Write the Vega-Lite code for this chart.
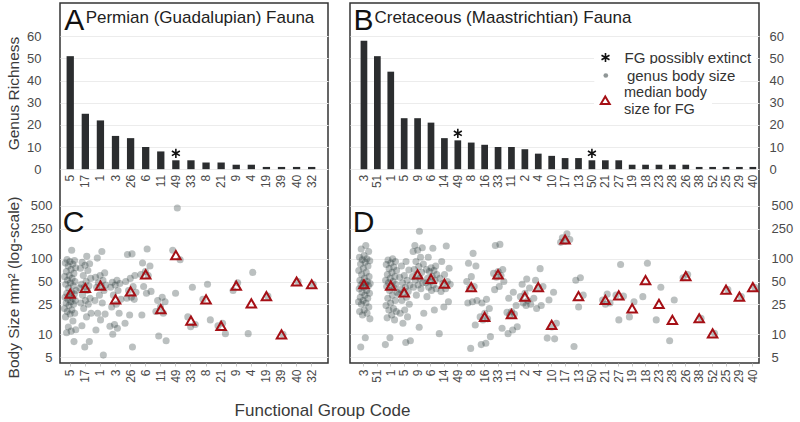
{
"$schema": "https://vega.github.io/schema/vega-lite/v6.json",
"padding": {"left": 5, "top": 2, "right": 5, "bottom": 2},
"bounds": "flush",
"spacing": 22,
"config": {
  "font": "Liberation Sans",
  "view": {"stroke": "#333333", "strokeWidth": 1.5},
  "axis": {"labelFont": "Liberation Sans", "titleFont": "Liberation Sans", "labelColor": "#4a4a4a", "titleColor": "#3a3a3a", "titleFontWeight": "normal", "domain": false, "gridColor": "#ececec", "gridWidth": 1},
  "legend": {"labelFont": "Liberation Sans", "labelFontSize": 15, "labelColor": "#333333", "fillColor": "white", "padding": 4, "orient": "none", "title": null}
},
"datasets": {
  "barsP": [
    {"g":"5","n":51},{"g":"17","n":25},{"g":"1","n":22},{"g":"3","n":15},{"g":"26","n":14},{"g":"6","n":10},{"g":"11","n":8},{"g":"49","n":4,"ext":true},{"g":"33","n":4},{"g":"8","n":3},{"g":"21","n":3},{"g":"9","n":2},{"g":"4","n":2},{"g":"19","n":1},{"g":"39","n":1},{"g":"40","n":1},{"g":"32","n":1}
  ],
  "barsK": [
    {"g":"3","n":58},{"g":"51","n":51},{"g":"1","n":44},{"g":"5","n":23},{"g":"9","n":23},{"g":"6","n":21},{"g":"14","n":14},{"g":"49","n":13,"ext":true},{"g":"8","n":12},{"g":"16","n":11},{"g":"33","n":10},{"g":"11","n":10},{"g":"2","n":9},{"g":"4","n":7},{"g":"10","n":6},{"g":"17","n":5},{"g":"13","n":5},{"g":"50","n":4,"ext":true},{"g":"21","n":4},{"g":"27","n":4},{"g":"19","n":2},{"g":"18","n":2},{"g":"23","n":2},{"g":"28","n":2},{"g":"26","n":2},{"g":"38","n":1},{"g":"52","n":1},{"g":"25","n":1},{"g":"29","n":1},{"g":"40","n":1}
  ],
  "medP": [
    {"g":"5","m":34.5},{"g":"17","m":41},{"g":"1","m":44},{"g":"3","m":29},{"g":"26","m":37},{"g":"6","m":62},{"g":"11","m":21.5},{"g":"49","m":112},{"g":"33","m":15.2},{"g":"8","m":29},{"g":"21","m":12.9},{"g":"9","m":44},{"g":"4","m":25.7},{"g":"19","m":32},{"g":"39","m":10},{"g":"40","m":50},{"g":"32","m":46}
  ],
  "medK": [
    {"g":"3","m":46},{"g":"1","m":44},{"g":"5","m":36},{"g":"9","m":62},{"g":"6","m":54},{"g":"14","m":47},{"g":"8","m":42},{"g":"16","m":17},{"g":"33","m":62},{"g":"11","m":18.5},{"g":"2","m":31.5},{"g":"4","m":42},{"g":"10","m":13.3},{"g":"17","m":180},{"g":"13","m":32},{"g":"21","m":28.5},{"g":"27","m":32.7},{"g":"19","m":22},{"g":"18","m":52},{"g":"23","m":25.3},{"g":"28","m":15.5},{"g":"26","m":59},{"g":"38","m":16.3},{"g":"52","m":10.3},{"g":"25","m":39},{"g":"29","m":31.5},{"g":"40","m":42}
  ],
  "ptsP": [
    {"g":"5","s":130},{"g":"5","s":98},{"g":"5","s":95},{"g":"5","s":92},{"g":"5","s":88},{"g":"5","s":85},{"g":"5","s":80},{"g":"5","s":76},{"g":"5","s":72},{"g":"5","s":68},{"g":"5","s":64},{"g":"5","s":60},{"g":"5","s":58},{"g":"5","s":55},{"g":"5","s":52},{"g":"5","s":50},{"g":"5","s":48},{"g":"5","s":46},{"g":"5","s":44},{"g":"5","s":41},{"g":"5","s":38},{"g":"5","s":36},{"g":"5","s":35},{"g":"5","s":34},{"g":"5","s":33},{"g":"5","s":31},{"g":"5","s":30},{"g":"5","s":29},{"g":"5","s":28},{"g":"5","s":27},{"g":"5","s":26},{"g":"5","s":25},{"g":"5","s":24},{"g":"5","s":22},{"g":"5","s":21},{"g":"5","s":20},{"g":"5","s":19},{"g":"5","s":18.5},{"g":"5","s":17},{"g":"5","s":15},{"g":"5","s":12.5},{"g":"5","s":11.5},{"g":"5","s":11},{"g":"5","s":10.5},{"g":"5","s":8},
    {"g":"17","s":108},{"g":"17","s":90},{"g":"17","s":86},{"g":"17","s":82},{"g":"17","s":75},{"g":"17","s":70},{"g":"17","s":60},{"g":"17","s":55},{"g":"17","s":50},{"g":"17","s":46},{"g":"17","s":44},{"g":"17","s":42},{"g":"17","s":41},{"g":"17","s":38},{"g":"17","s":33},{"g":"17","s":30},{"g":"17","s":28},{"g":"17","s":26},{"g":"17","s":25},{"g":"17","s":22},{"g":"17","s":19},{"g":"17","s":17},{"g":"17","s":13},{"g":"17","s":8},{"g":"17","s":6.8},
    {"g":"1","s":125},{"g":"1","s":102},{"g":"1","s":65},{"g":"1","s":60},{"g":"1","s":57},{"g":"1","s":52},{"g":"1","s":48},{"g":"1","s":45},{"g":"1","s":44},{"g":"1","s":42},{"g":"1","s":38},{"g":"1","s":33},{"g":"1","s":28},{"g":"1","s":26},{"g":"1","s":19},{"g":"1","s":18.5},{"g":"1","s":15.5},{"g":"1","s":11.4},{"g":"1","s":5.3},
    {"g":"3","s":52},{"g":"3","s":49},{"g":"3","s":47},{"g":"3","s":45},{"g":"3","s":42},{"g":"3","s":38},{"g":"3","s":33},{"g":"3","s":29},{"g":"3","s":25},{"g":"3","s":23},{"g":"3","s":19},{"g":"3","s":13.5},{"g":"3","s":12.8},{"g":"3","s":12},{"g":"3","s":10},
    {"g":"26","s":116},{"g":"26","s":114},{"g":"26","s":60},{"g":"26","s":55},{"g":"26","s":50},{"g":"26","s":43},{"g":"26","s":38},{"g":"26","s":36},{"g":"26","s":31},{"g":"26","s":30},{"g":"26","s":29},{"g":"26","s":18},{"g":"26","s":14},{"g":"26","s":6.8},
    {"g":"6","s":135},{"g":"6","s":88},{"g":"6","s":80},{"g":"6","s":68},{"g":"6","s":62},{"g":"6","s":60},{"g":"6","s":43},{"g":"6","s":37},{"g":"6","s":35},{"g":"6","s":18},
    {"g":"11","s":31},{"g":"11","s":28},{"g":"11","s":27},{"g":"11","s":23},{"g":"11","s":20},{"g":"11","s":19},{"g":"11","s":9.5},{"g":"11","s":8.2},
    {"g":"49","s":470},{"g":"49","s":130},{"g":"49","s":97},{"g":"49","s":35},
    {"g":"33","s":42},{"g":"33","s":17},{"g":"33","s":13.5},{"g":"33","s":12.6},
    {"g":"8","s":46},{"g":"8","s":29},{"g":"8","s":15.5},
    {"g":"21","s":14},{"g":"21","s":13},{"g":"21","s":10.2},
    {"g":"9","s":48},{"g":"9","s":38},
    {"g":"4","s":66},{"g":"4","s":10.2},
    {"g":"19","s":32},{"g":"39","s":10},{"g":"40","s":50},{"g":"32","s":46}
  ],
  "ptsK": [
    {"g":"3","s":150},{"g":"3","s":135},{"g":"3","s":125},{"g":"3","s":110},{"g":"3","s":105},{"g":"3","s":100},{"g":"3","s":97},{"g":"3","s":94},{"g":"3","s":90},{"g":"3","s":85},{"g":"3","s":80},{"g":"3","s":75},{"g":"3","s":70},{"g":"3","s":66},{"g":"3","s":62},{"g":"3","s":58},{"g":"3","s":55},{"g":"3","s":52},{"g":"3","s":50},{"g":"3","s":48},{"g":"3","s":47},{"g":"3","s":46},{"g":"3","s":45},{"g":"3","s":44},{"g":"3","s":42},{"g":"3","s":40},{"g":"3","s":38},{"g":"3","s":36},{"g":"3","s":35},{"g":"3","s":33},{"g":"3","s":31},{"g":"3","s":30},{"g":"3","s":28},{"g":"3","s":27},{"g":"3","s":26},{"g":"3","s":25},{"g":"3","s":23},{"g":"3","s":21},{"g":"3","s":20},{"g":"3","s":19},{"g":"3","s":18},{"g":"3","s":16},{"g":"3","s":9},{"g":"3","s":6.8},
    {"g":"1","s":100},{"g":"1","s":96},{"g":"1","s":92},{"g":"1","s":88},{"g":"1","s":84},{"g":"1","s":78},{"g":"1","s":74},{"g":"1","s":70},{"g":"1","s":66},{"g":"1","s":62},{"g":"1","s":58},{"g":"1","s":55},{"g":"1","s":52},{"g":"1","s":50},{"g":"1","s":48},{"g":"1","s":46},{"g":"1","s":44},{"g":"1","s":43},{"g":"1","s":41},{"g":"1","s":38},{"g":"1","s":36},{"g":"1","s":33},{"g":"1","s":30},{"g":"1","s":28},{"g":"1","s":26},{"g":"1","s":24},{"g":"1","s":22},{"g":"1","s":21},{"g":"1","s":20},{"g":"1","s":18},{"g":"1","s":16.5},{"g":"1","s":15.5},{"g":"1","s":9},{"g":"1","s":7.3},
    {"g":"5","s":92},{"g":"5","s":80},{"g":"5","s":71},{"g":"5","s":60},{"g":"5","s":57},{"g":"5","s":52},{"g":"5","s":48},{"g":"5","s":45},{"g":"5","s":42},{"g":"5","s":39},{"g":"5","s":37},{"g":"5","s":36},{"g":"5","s":34},{"g":"5","s":31},{"g":"5","s":28},{"g":"5","s":25},{"g":"5","s":21},{"g":"5","s":19},{"g":"5","s":17},{"g":"5","s":14},{"g":"5","s":8.2},{"g":"5","s":7.8},
    {"g":"9","s":232},{"g":"9","s":150},{"g":"9","s":140},{"g":"9","s":130},{"g":"9","s":125},{"g":"9","s":105},{"g":"9","s":92},{"g":"9","s":85},{"g":"9","s":79},{"g":"9","s":72},{"g":"9","s":66},{"g":"9","s":62},{"g":"9","s":58},{"g":"9","s":55},{"g":"9","s":52},{"g":"9","s":48},{"g":"9","s":45},{"g":"9","s":42},{"g":"9","s":40},{"g":"9","s":33},{"g":"9","s":19},{"g":"9","s":12.4},
    {"g":"6","s":138},{"g":"6","s":105},{"g":"6","s":80},{"g":"6","s":76},{"g":"6","s":72},{"g":"6","s":70},{"g":"6","s":68},{"g":"6","s":62},{"g":"6","s":58},{"g":"6","s":55},{"g":"6","s":52},{"g":"6","s":50},{"g":"6","s":48},{"g":"6","s":45},{"g":"6","s":42},{"g":"6","s":40},{"g":"6","s":38},{"g":"6","s":31.5},{"g":"6","s":21},
    {"g":"14","s":148},{"g":"14","s":92},{"g":"14","s":75},{"g":"14","s":62},{"g":"14","s":55},{"g":"14","s":50},{"g":"14","s":47},{"g":"14","s":46},{"g":"14","s":40},{"g":"14","s":37},{"g":"14","s":27},{"g":"14","s":23},{"g":"14","s":10.2},
    {"g":"8","s":118},{"g":"8","s":87},{"g":"8","s":80},{"g":"8","s":58},{"g":"8","s":50},{"g":"8","s":43},{"g":"8","s":41},{"g":"8","s":28},{"g":"8","s":27},{"g":"8","s":26},{"g":"8","s":13.3},{"g":"8","s":6.5},
    {"g":"16","s":29},{"g":"16","s":26},{"g":"16","s":22},{"g":"16","s":19},{"g":"16","s":17},{"g":"16","s":16},{"g":"16","s":15.5},{"g":"16","s":9.3},{"g":"16","s":7.6},{"g":"16","s":7.3},
    {"g":"33","s":155},{"g":"33","s":150},{"g":"33","s":72},{"g":"33","s":68},{"g":"33","s":64},{"g":"33","s":60},{"g":"33","s":57},{"g":"33","s":50},{"g":"33","s":43},{"g":"33","s":39},{"g":"33","s":12},
    {"g":"11","s":36},{"g":"11","s":30},{"g":"11","s":24},{"g":"11","s":20},{"g":"11","s":19.5},{"g":"11","s":18.5},{"g":"11","s":18},{"g":"11","s":12.6},{"g":"11","s":11.4},{"g":"11","s":10.2},
    {"g":"2","s":54},{"g":"2","s":46},{"g":"2","s":41},{"g":"2","s":35},{"g":"2","s":31.5},{"g":"2","s":28},{"g":"2","s":26},{"g":"2","s":25},{"g":"2","s":24},
    {"g":"4","s":74},{"g":"4","s":52},{"g":"4","s":43},{"g":"4","s":42},{"g":"4","s":30},{"g":"4","s":24},{"g":"4","s":22},
    {"g":"10","s":36},{"g":"10","s":28.5},{"g":"10","s":14},{"g":"10","s":12.5},{"g":"10","s":8.9},{"g":"10","s":8.7},
    {"g":"17","s":215},{"g":"17","s":190},{"g":"17","s":180},{"g":"17","s":170},{"g":"17","s":165},
    {"g":"13","s":56},{"g":"13","s":52},{"g":"13","s":33},{"g":"13","s":23},{"g":"13","s":6.9},
    {"g":"21","s":34},{"g":"21","s":28.5},{"g":"21","s":26},{"g":"21","s":25},
    {"g":"27","s":84},{"g":"27","s":33},{"g":"27","s":32},{"g":"27","s":15.5},
    {"g":"19","s":27},{"g":"19","s":17},
    {"g":"18","s":87},{"g":"18","s":31.5},
    {"g":"23","s":42},{"g":"23","s":15.5},
    {"g":"28","s":28.5},{"g":"28","s":8.2},
    {"g":"26","s":62},{"g":"26","s":56},
    {"g":"38","s":16.3},{"g":"52","s":10.3},{"g":"25","s":39},{"g":"29","s":31.5},{"g":"40","s":42}
  ]
},
"hconcat": [
  {
    "width": 268, "height": 360,
    "encoding": {
      "x": {"field": "g", "type": "nominal",
        "scale": {"type": "band", "domain": ["5","17","1","3","26","6","11","49","33","8","21","9","4","19","39","40","32"], "paddingInner": 0.5, "paddingOuter": 0.63, "align": 0.34},
        "axis": {"title": "Functional Group Code", "labelAngle": 270, "labelAlign": "right", "labelBaseline": "middle", "labelFontSize": 12, "labelPadding": 3, "tickSize": 3, "tickColor": "#c8c8c8", "titleFontSize": 17, "titleX": 262, "titleY": 52, "titleBaseline": "alphabetic", "grid": false}}
    },
    "layer": [
      {
        "layer": [
          {"data": {"name": "barsP"}, "mark": {"type": "bar", "color": "#2b2d2f", "width": 7.3},
           "encoding": {"y": {"field": "n", "type": "quantitative",
             "scale": {"domain": [-87.5, 75], "nice": false, "zero": false},
             "axis": {"orient": "left", "values": [0,10,20,30,40,50,60], "format": "d", "title": "Genus Richness", "titleFontSize": 15.5, "titleX": -42, "titleY": 90, "titleBaseline": "alphabetic", "labelFontSize": 13, "labelPadding": 19, "ticks": false, "grid": true}}}},
          {"data": {"name": "barsP"}, "mark": {"type": "text", "angle": 270, "align": "right", "baseline": "middle", "fontSize": 12, "color": "#4a4a4a"},
           "encoding": {"y": {"datum": -2.5}, "text": {"field": "g"}}},
          {"data": {"name": "barsP"}, "transform": [{"filter": "datum.ext"}],
           "mark": {"type": "point", "shape": "M0,-1V1M-0.866,-0.5L0.866,0.5M-0.866,0.5L0.866,-0.5", "filled": false, "stroke": "#111111", "strokeWidth": 1.6, "size": 85, "opacity": 1, "yOffset": -7},
           "encoding": {"y": {"field": "n", "type": "quantitative"}}},
          {"data": {"values": [{}]}, "mark": {"type": "text", "fontSize": 30, "align": "left", "baseline": "alphabetic", "dx": -6, "color": "#111111"},
           "encoding": {"x": {"datum": "5"}, "y": {"datum": 62.7}, "text": {"value": "A"}}},
          {"data": {"values": [{}]}, "mark": {"type": "text", "fontSize": 17, "align": "left", "baseline": "alphabetic", "dx": 15.4, "color": "#222222"},
           "encoding": {"x": {"datum": "5"}, "y": {"datum": 65.9}, "text": {"value": "Permian (Guadalupian) Fauna"}}}
        ]
      },
      {
        "layer": [
          {"data": {"name": "ptsP"},
           "transform": [{"window": [{"op": "row_number", "as": "rn"}], "groupby": ["g"]}, {"calculate": "(datum.rn * 0.618034) % 1", "as": "j"}],
           "mark": {"type": "circle", "color": "#1f2d2d", "opacity": 0.3, "size": 50},
           "encoding": {
             "xOffset": {"field": "j", "type": "quantitative", "scale": {"domain": [0, 1], "range": [-2.2, 9.8]}},
             "y": {"field": "s", "type": "quantitative",
               "scale": {"type": "log", "domain": [4.165, 244000], "nice": false},
               "axis": {"orient": "left", "values": [5,10,25,50,100,250,500], "format": "d", "title": "Body Size mm² (log-scale)", "titleFontSize": 15.5, "titleX": -42, "titleY": 284, "titleBaseline": "alphabetic", "labelFontSize": 13, "labelPadding": 8, "ticks": false, "grid": true}}}},
          {"data": {"name": "medP"},
           "mark": {"type": "point", "shape": "triangle-up", "filled": false, "stroke": "#a50f15", "strokeWidth": 2, "size": 90, "opacity": 1},
           "encoding": {"y": {"field": "m", "type": "quantitative"}}},
          {"data": {"values": [{}]}, "mark": {"type": "text", "fontSize": 30, "align": "left", "baseline": "alphabetic", "dx": -7.5, "color": "#111111"},
           "encoding": {"x": {"datum": "5"}, "y": {"datum": 228}, "text": {"value": "C"}}}
        ]
      }
    ],
    "resolve": {"scale": {"y": "independent"}}
  },
  {
    "width": 409, "height": 360,
    "encoding": {
      "x": {"field": "g", "type": "nominal",
        "scale": {"type": "band", "domain": ["3","51","1","5","9","6","14","49","8","16","33","11","2","4","10","17","13","50","21","27","19","18","23","28","26","38","52","25","29","40"], "paddingInner": 0.5, "paddingOuter": 0.5, "align": 0.79},
        "axis": {"title": null, "labelAngle": 270, "labelAlign": "right", "labelBaseline": "middle", "labelFontSize": 12, "labelPadding": 3, "tickSize": 3, "tickColor": "#c8c8c8", "grid": false}}
    },
    "layer": [
      {
        "layer": [
          {"data": {"name": "barsK"}, "mark": {"type": "bar", "color": "#2b2d2f", "width": 6.7},
           "encoding": {"y": {"field": "n", "type": "quantitative",
             "scale": {"domain": [-87.5, 75], "nice": false, "zero": false},
             "axis": {"orient": "right", "values": [0,10,20,30,40,50,60], "format": "d", "title": null, "labelFontSize": 13, "labelPadding": 10, "ticks": false, "grid": true}}}},
          {"data": {"name": "barsK"}, "mark": {"type": "text", "angle": 270, "align": "right", "baseline": "middle", "fontSize": 12, "color": "#4a4a4a"},
           "encoding": {"y": {"datum": -2.5}, "text": {"field": "g"}}},
          {"data": {"name": "barsK"}, "transform": [{"filter": "datum.ext"}],
           "mark": {"type": "point", "filled": false, "stroke": "#111111", "strokeWidth": 1.6, "size": 85, "opacity": 1, "yOffset": -7},
           "encoding": {"y": {"field": "n", "type": "quantitative"},
             "shape": {"datum": "FG possibly extinct", "scale": {"range": ["M0,-1V1M-0.866,-0.5L0.866,0.5M-0.866,0.5L0.866,-0.5"]},
               "legend": {"legendX": 534, "legendY": 43, "symbolSize": 85, "symbolStrokeWidth": 1.6, "symbolStrokeColor": "#111111", "symbolFillColor": "transparent", "labelOffset": 11.5}}}},
          {"data": {"values": [{}]}, "mark": {"type": "text", "fontSize": 30, "align": "left", "baseline": "alphabetic", "dx": -10.4, "color": "#111111"},
           "encoding": {"x": {"datum": "3"}, "y": {"datum": 62.9}, "text": {"value": "B"}}},
          {"data": {"values": [{}]}, "mark": {"type": "text", "fontSize": 17, "align": "left", "baseline": "alphabetic", "dx": 10.5, "color": "#222222"},
           "encoding": {"x": {"datum": "3"}, "y": {"datum": 65.9}, "text": {"value": "Cretaceous (Maastrichtian) Fauna"}}}
        ]
      },
      {
        "layer": [
          {"data": {"name": "ptsK"},
           "transform": [{"window": [{"op": "row_number", "as": "rn"}], "groupby": ["g"]}, {"calculate": "(datum.rn * 0.618034) % 1", "as": "j"}],
           "mark": {"type": "circle", "opacity": 0.3, "size": 50},
           "encoding": {
             "xOffset": {"field": "j", "type": "quantitative", "scale": {"domain": [0, 1], "range": [-1.65, 8.35]}},
             "y": {"field": "s", "type": "quantitative",
               "scale": {"type": "log", "domain": [4.165, 244000], "nice": false},
               "axis": {"orient": "right", "values": [5,10,25,50,100,250,500], "format": "d", "title": null, "labelFontSize": 13, "labelPadding": 12, "ticks": false, "grid": true}},
             "fill": {"datum": "genus body size", "scale": {"range": ["#1f2d2d"]},
               "legend": {"legendX": 534.3, "legendY": 61, "symbolSize": 22, "symbolOpacity": 0.5, "symbolType": "circle", "labelOffset": 13.6}}}},
          {"data": {"name": "medK"},
           "mark": {"type": "point", "shape": "triangle-up", "filled": false, "strokeWidth": 2, "size": 90, "opacity": 1},
           "encoding": {"y": {"field": "m", "type": "quantitative"},
             "stroke": {"datum": "median body size for FG", "scale": {"range": ["#a50f15"]},
               "legend": {"legendX": 534, "legendY": 86, "symbolSize": 80, "symbolType": "triangle-up", "symbolStrokeWidth": 2, "symbolFillColor": "transparent", "labelOffset": 11.5, "labelBaseline": "bottom", "labelFontSize": 14.5,
                 "labelExpr": "['median body', 'size for FG']"}}}},
          {"data": {"values": [{}]}, "mark": {"type": "text", "fontSize": 30, "align": "left", "baseline": "alphabetic", "dx": -11.3, "color": "#111111"},
           "encoding": {"x": {"datum": "3"}, "y": {"datum": 228}, "text": {"value": "D"}}}
        ]
      }
    ],
    "resolve": {"scale": {"y": "independent"}}
  }
]
}
